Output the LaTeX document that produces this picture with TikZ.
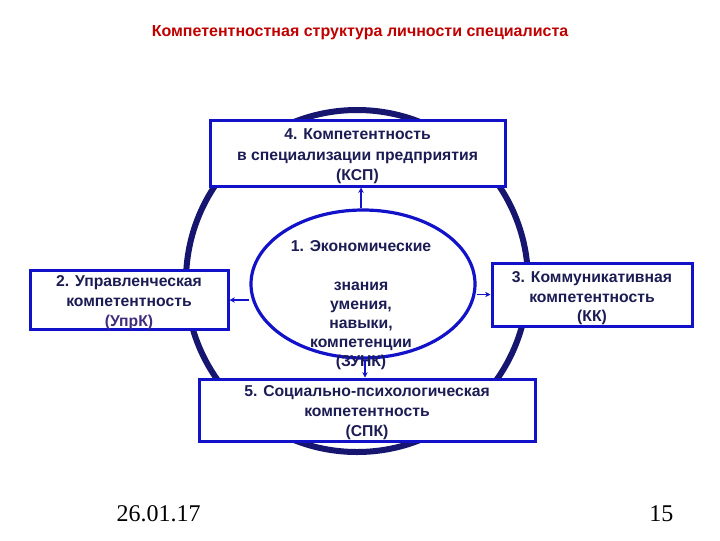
\documentclass[tikz,border=0pt]{standalone}
\usepackage{fontspec}
\setmainfont{Liberation Sans}
\newfontfamily\datefont{Liberation Serif}
\usetikzlibrary{arrows.meta,shapes.geometric}
\definecolor{ringnavy}{RGB}{22,22,112}
\definecolor{boxblue}{RGB}{18,18,200}
\definecolor{txtnavy}{RGB}{28,28,84}
\definecolor{txtpurple}{RGB}{64,44,124}
\definecolor{titlered}{RGB}{192,0,0}
\tikzset{
  stepbox/.style={draw=boxblue, line width=2.25pt, fill=white, inner sep=0pt},
  boxtext/.style={align=center, text=txtnavy, font=\bfseries\fontsize{11.8}{15}\selectfont, inner sep=0pt},
  arr/.style={draw=boxblue, line width=1.1pt, -{Stealth[length=4pt,width=4pt]}},
}
\begin{document}
\begin{tikzpicture}[x=0.75pt,y=-0.75pt]
\useasboundingbox[fill=white] (0,0) rectangle (720,540);
% title
\node (title) [text=titlered, font=\bfseries\fontsize{12}{14}\selectfont] at (360,33) {Компетентностная структура личности специалиста};
% ring
\draw[ringnavy, line width=4.5pt] (357,281) circle[radius=171];
% ellipse
\node (ell) [ellipse, draw=boxblue, line width=2.4pt, minimum width=168pt, minimum height=111pt, inner sep=0pt] at (363,284) {};
\node (elltext) [boxtext, font=\bfseries\fontsize{11.8}{14.4}\selectfont] at (361,305.5)
  {1. Экономические\\ \\знания\\умения,\\навыки,\\компетенции\\(ЗУНК)};
% boxes
\node (b4) [stepbox, minimum width=221.25pt, minimum height=49.5pt] at (357.5,153) {};
\node (b4t) [boxtext, font=\bfseries\fontsize{11.8}{15.5}\selectfont] at ([yshift=-2.6pt]b4.center)
  {4. Компетентность\\в специализации предприятия\\(КСП)};
\node (b2) [stepbox, minimum width=148.5pt, minimum height=44.25pt] at (129,300) {};
\node (b2t) [boxtext] at ([yshift=-2.3pt]b2.center)
  {2. Управленческая\\компетентность\\{\color{txtpurple}(УпрК)}};
\node (b3) [stepbox, minimum width=150pt, minimum height=47.25pt] at (592,294.5) {};
\node (b3t) [boxtext, font=\bfseries\fontsize{11.8}{14.6}\selectfont] at ([yshift=-3pt]b3.center)
  {3. Коммуникативная\\компетентность\\(КК)};
\node (b5) [stepbox, minimum width=252pt, minimum height=46.5pt] at (367,410) {};
\node (b5t) [boxtext] at ([yshift=-2.3pt]b5.center)
  {5. Социально-психологическая\\компетентность\\(СПК)};
% connectors
\draw[arr] (ell.north -| 361,0) -- (b4.south -| 361,0);
\draw[arr] (ell.west |- b2.east) -- (b2.east);
\draw[arr] (ell.east |- b3.west) -- (b3.west);
\draw[arr] (ell.south -| 365,0) -- (b5.north -| 365,0);
% footer
\node (date) [anchor=base west, font=\datefont\fontsize{18}{20}\selectfont, text=black] at (112,521) {26.01.17};
\node (page) [anchor=base east, font=\datefont\fontsize{18}{20}\selectfont, text=black] at (678,521) {15};
\end{tikzpicture}
\end{document}
